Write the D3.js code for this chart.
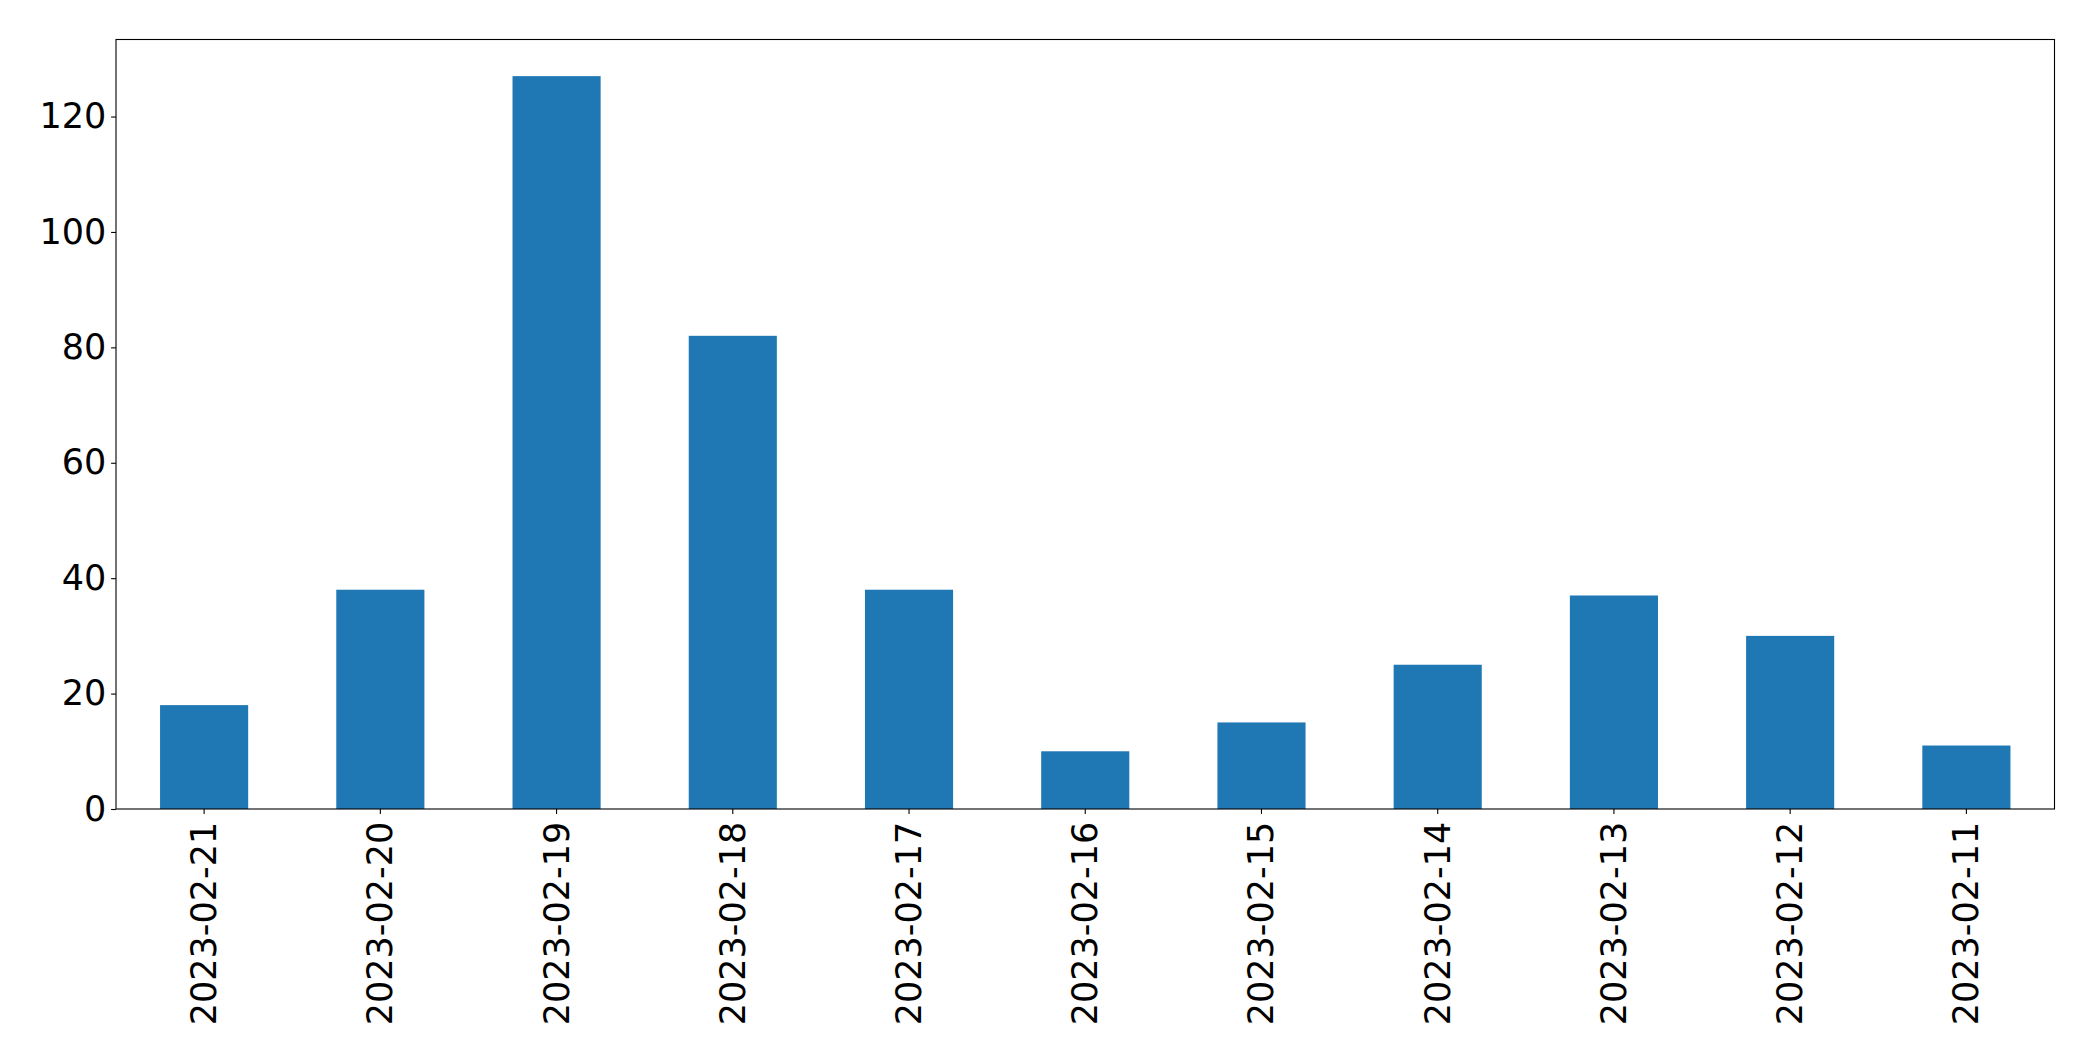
<!DOCTYPE html>
<html>
<head>
<meta charset="utf-8">
<script src="https://cdn.jsdelivr.net/npm/d3@7"></script>
<style>
  html, body { margin: 0; padding: 0; background: #fff; }
  svg { display: block; }
  text { font-family: "DejaVu Sans", sans-serif; fill: #000; }
</style>
</head>
<body>
<svg id="chart" width="2093" height="1061"></svg>
<script>
const categories = ["2023-02-21","2023-02-20","2023-02-19","2023-02-18","2023-02-17","2023-02-16","2023-02-15","2023-02-14","2023-02-13","2023-02-12","2023-02-11"];
const counts = [18, 38, 127, 82, 38, 10, 15, 25, 37, 30, 11];
const yTicks = [0, 20, 40, 60, 80, 100, 120];

const W = 2093, H = 1061;
const plotLeft = 116, plotRight = 2054.5, plotTop = 39.5, plotBottom = 809;
const tickLen = 4.9, tickPad = 4.9, fontSize = 35;

const svg = d3.select("#chart");

const x = d3.scaleBand()
  .domain(categories)
  .range([plotLeft, plotRight])
  .paddingInner(0.5)
  .paddingOuter(0.25);

const y = d3.scaleLinear()
  .domain([0, d3.max(counts) * 1.05])
  .range([plotBottom, plotTop]);

const data = categories.map((c, i) => ({ cat: c, val: counts[i] }));

svg.append("g")
  .selectAll("rect")
  .data(data)
  .join("rect")
  .attr("x", d => x(d.cat))
  .attr("width", x.bandwidth())
  .attr("y", d => y(d.val))
  .attr("height", d => y(0) - y(d.val))
  .attr("fill", "#1f77b4");

// Y axis
const yAxis = svg.append("g")
  .attr("transform", `translate(${plotLeft},0)`)
  .call(d3.axisLeft(y).tickValues(yTicks).tickSize(tickLen).tickPadding(tickPad).tickFormat(d3.format("d")));
yAxis.select(".domain").remove();
yAxis.selectAll(".tick line").attr("stroke", "#000").attr("stroke-width", 1.1);
yAxis.selectAll(".tick text")
  .attr("font-family", "DejaVu Sans")
  .attr("font-size", fontSize)
  .attr("fill", "#000");

// X axis
const xAxis = svg.append("g")
  .attr("transform", `translate(0,${plotBottom})`)
  .call(d3.axisBottom(x).tickSize(tickLen).tickPadding(tickPad));
xAxis.select(".domain").remove();
xAxis.selectAll(".tick line").attr("stroke", "#000").attr("stroke-width", 1.1);
xAxis.selectAll(".tick text")
  .attr("font-family", "DejaVu Sans")
  .attr("font-size", fontSize)
  .attr("fill", "#000")
  .attr("text-anchor", "end")
  .attr("dy", null)
  .attr("y", null)
  .attr("dominant-baseline", "central")
  .attr("transform", `translate(0,${tickLen + tickPad + 3}) rotate(-90)`);

// Frame (spines)
svg.append("rect")
  .attr("x", plotLeft)
  .attr("y", plotTop)
  .attr("width", plotRight - plotLeft)
  .attr("height", plotBottom - plotTop)
  .attr("fill", "none")
  .attr("stroke", "#000")
  .attr("stroke-width", 1.1);
</script>
</body>
</html>
